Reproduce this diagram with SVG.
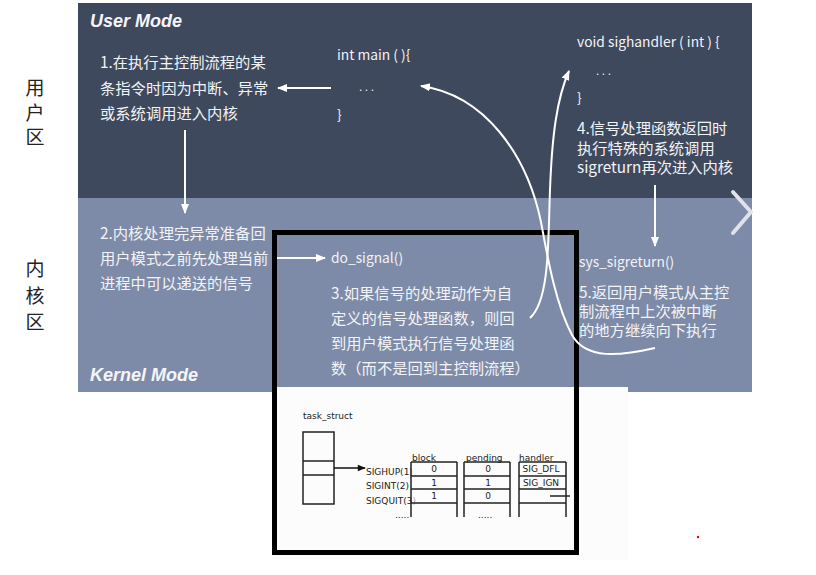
<svg xmlns="http://www.w3.org/2000/svg" width="816" height="575" viewBox="0 0 816 575">
<defs>
<marker id="wa" markerUnits="userSpaceOnUse" markerWidth="10" markerHeight="10" viewBox="0 0 10 10" refX="9" refY="5" orient="auto">
<path d="M0,1 L10,5 L0,9 Z" fill="#ffffff"/>
</marker>
<marker id="ba" markerUnits="userSpaceOnUse" markerWidth="9" markerHeight="8" viewBox="0 0 10 10" refX="9" refY="5" orient="auto">
<path d="M0,1 L10,5 L0,9 Z" fill="#111"/>
</marker>
<style>
.zh{font-family:"Noto Sans CJK SC","Noto Sans",sans-serif;font-size:15.3px;fill:#f2f3f6}
.code{font-family:"Noto Sans CJK SC","Noto Sans",sans-serif;font-size:13.8px;fill:#f2f3f6}
.dots{font-family:"Liberation Sans",Arial,sans-serif;font-size:12px;fill:#f2f3f6;letter-spacing:2.5px}
.mode{font-family:"Liberation Sans",Arial,sans-serif;font-size:18px;font-weight:bold;font-style:italic;fill:#f4f5f8}
.side{font-family:"Noto Sans CJK SC",sans-serif;font-size:19px;fill:#222;text-anchor:middle}
.con{fill:none;stroke:#ffffff;stroke-width:2}
.ins{font-family:"DejaVu Sans",sans-serif;font-size:9px;fill:#222}
.cell{fill:none;stroke:#222;stroke-width:1.5}
</style>
</defs>
<rect width="816" height="575" fill="#ffffff"/>
<g id="panels">
<rect x="78" y="3" width="674" height="195" fill="#3e495e"/>
<rect x="78" y="198" width="674" height="194" fill="#7e8ba8"/>
<rect x="272" y="387" width="356" height="173" fill="#fcfcfc"/>
<polyline points="733,192 751,212 733,233" fill="none" stroke="#dfe2ea" stroke-width="4" stroke-linecap="round" stroke-linejoin="round"/>
<text class="mode" x="90" y="27">User Mode</text>
<text class="mode" x="90" y="381">Kernel Mode</text>
<circle cx="698" cy="537" r="1.2" fill="#e00"/>
</g>
<g id="side-labels">
<text class="side" x="35" y="95">用</text>
<text class="side" x="35" y="120">户</text>
<text class="side" x="35" y="144">区</text>
<text class="side" x="35" y="276">内</text>
<text class="side" x="35" y="303">核</text>
<text class="side" x="35" y="329">区</text>
</g>
<g id="step1">
<text class="zh" x="100" y="68">1.在执行主控制流程的某</text>
<text class="zh" x="100" y="94">条指令时因为中断、异常</text>
<text class="zh" x="100" y="119">或系统调用进入内核</text>
</g>
<g id="main">
<text class="code" x="337" y="60">int main ( ){</text>
<text class="dots" x="359" y="91">...</text>
<text class="code" x="337" y="120">}</text>
</g>
<g id="sighandler">
<text class="code" x="577" y="47">void sighandler ( int ) {</text>
<text class="dots" x="596" y="75">...</text>
<text class="code" x="577" y="103">}</text>
</g>
<g id="step4">
<text class="zh" x="577" y="134">4.信号处理函数返回时</text>
<text class="zh" x="577" y="154">执行特殊的系统调用</text>
<text class="zh" x="577" y="173">sigreturn再次进入内核</text>
</g>
<g id="step2">
<text class="zh" x="100" y="239">2.内核处理完异常准备回</text>
<text class="zh" x="100" y="264">用户模式之前先处理当前</text>
<text class="zh" x="100" y="289">进程中可以递送的信号</text>
</g>
<g id="do_signal">
<text class="code" x="331" y="263">do_signal()</text>
</g>
<g id="step3">
<text class="zh" x="331" y="299">3.如果信号的处理动作为自</text>
<text class="zh" x="331" y="324">定义的信号处理函数，则回</text>
<text class="zh" x="331" y="349">到用户模式执行信号处理函</text>
<text class="zh" x="331" y="374">数（而不是回到主控制流程）</text>
</g>
<g id="sys_sigreturn">
<text class="code" x="579" y="267">sys_sigreturn()</text>
</g>
<g id="step5">
<text class="zh" x="579" y="298">5.返回用户模式从主控</text>
<text class="zh" x="579" y="317">制流程中上次被中断</text>
<text class="zh" x="579" y="336">的地方继续向下执行</text>
</g>
<g id="inset">
<text class="ins" x="303" y="419">task_struct</text>
<rect class="cell" x="303" y="432" width="31" height="72"/>
<line class="cell" x1="303" y1="461" x2="334" y2="461"/>
<line class="cell" x1="303" y1="475" x2="334" y2="475"/>
<line x1="334" y1="468" x2="365" y2="468" stroke="#111" stroke-width="1.5" marker-end="url(#ba)"/>
<text class="ins" x="366" y="475">SIGHUP(1)</text>
<text class="ins" x="366" y="489">SIGINT(2)</text>
<text class="ins" x="366" y="504">SIGQUIT(3)</text>
<text class="ins" x="412" y="461">block</text>
<text class="ins" x="466" y="461">pending</text>
<text class="ins" x="519" y="461">handler</text>
<g id="col-block">
<rect x="411" y="462" width="46" height="55" fill="#fcfcfc" fill-opacity="0.6"/>
<line class="cell" x1="411" y1="462" x2="411" y2="517" stroke-width="2.2"/>
<line class="cell" x1="457" y1="462" x2="457" y2="517" stroke-width="2.2"/>
<line class="cell" x1="411" y1="462" x2="457" y2="462"/>
<line class="cell" x1="411" y1="476" x2="457" y2="476"/>
<line class="cell" x1="411" y1="489" x2="457" y2="489"/>
<line class="cell" x1="411" y1="503" x2="457" y2="503"/>
<text class="ins" x="434" y="472" text-anchor="middle">0</text>
<text class="ins" x="434" y="486" text-anchor="middle">1</text>
<text class="ins" x="434" y="499" text-anchor="middle">1</text>
</g>
<g id="col-pending">
<line class="cell" x1="464" y1="462" x2="464" y2="517" stroke-width="2.2"/>
<line class="cell" x1="510" y1="462" x2="510" y2="517" stroke-width="2.2"/>
<line class="cell" x1="464" y1="462" x2="510" y2="462"/>
<line class="cell" x1="464" y1="476" x2="510" y2="476"/>
<line class="cell" x1="464" y1="489" x2="510" y2="489"/>
<line class="cell" x1="464" y1="503" x2="510" y2="503"/>
<text class="ins" x="488" y="472" text-anchor="middle">0</text>
<text class="ins" x="488" y="486" text-anchor="middle">1</text>
<text class="ins" x="488" y="499" text-anchor="middle">0</text>
</g>
<g id="col-handler">
<line class="cell" x1="519" y1="462" x2="519" y2="517" stroke-width="2.2"/>
<line class="cell" x1="566" y1="462" x2="566" y2="517" stroke-width="2.2"/>
<line class="cell" x1="519" y1="462" x2="566" y2="462"/>
<line class="cell" x1="519" y1="476" x2="566" y2="476"/>
<line class="cell" x1="519" y1="489" x2="566" y2="489"/>
<line class="cell" x1="519" y1="503" x2="566" y2="503"/>
<text class="ins" x="541" y="472" text-anchor="middle">SIG_DFL</text>
<text class="ins" x="541" y="486" text-anchor="middle">SIG_IGN</text>
<line class="cell" x1="550" y1="496" x2="570" y2="496"/>
</g>
<text class="ins" x="395" y="518" fill="#888" font-size="7">.....</text>
<text class="ins" x="478" y="518" fill="#888" font-size="7">.....</text>
</g>
<g id="frame">
<rect x="274.5" y="232.5" width="302" height="320" fill="none" stroke="#000" stroke-width="5"/>
</g>
<g id="connectors">
<line class="con" x1="331" y1="88" x2="278" y2="88" stroke-width="2.5" marker-end="url(#wa)"/>
<line class="con" x1="185" y1="130" x2="185" y2="213" marker-end="url(#wa)"/>
<line class="con" x1="277" y1="258" x2="325" y2="258" marker-end="url(#wa)"/>
<line class="con" x1="655" y1="185" x2="655" y2="246" marker-end="url(#wa)"/>
<path class="con" d="M530,318 C550,300 548,240 550,190 C552,135 557,98 569,71" marker-end="url(#wa)"/>
<path class="con" d="M655,348 C620,356 586,360 572,335 C556,305 548,260 541,222 C527,155 485,95 421,86" marker-end="url(#wa)"/>
</g>
</svg>
